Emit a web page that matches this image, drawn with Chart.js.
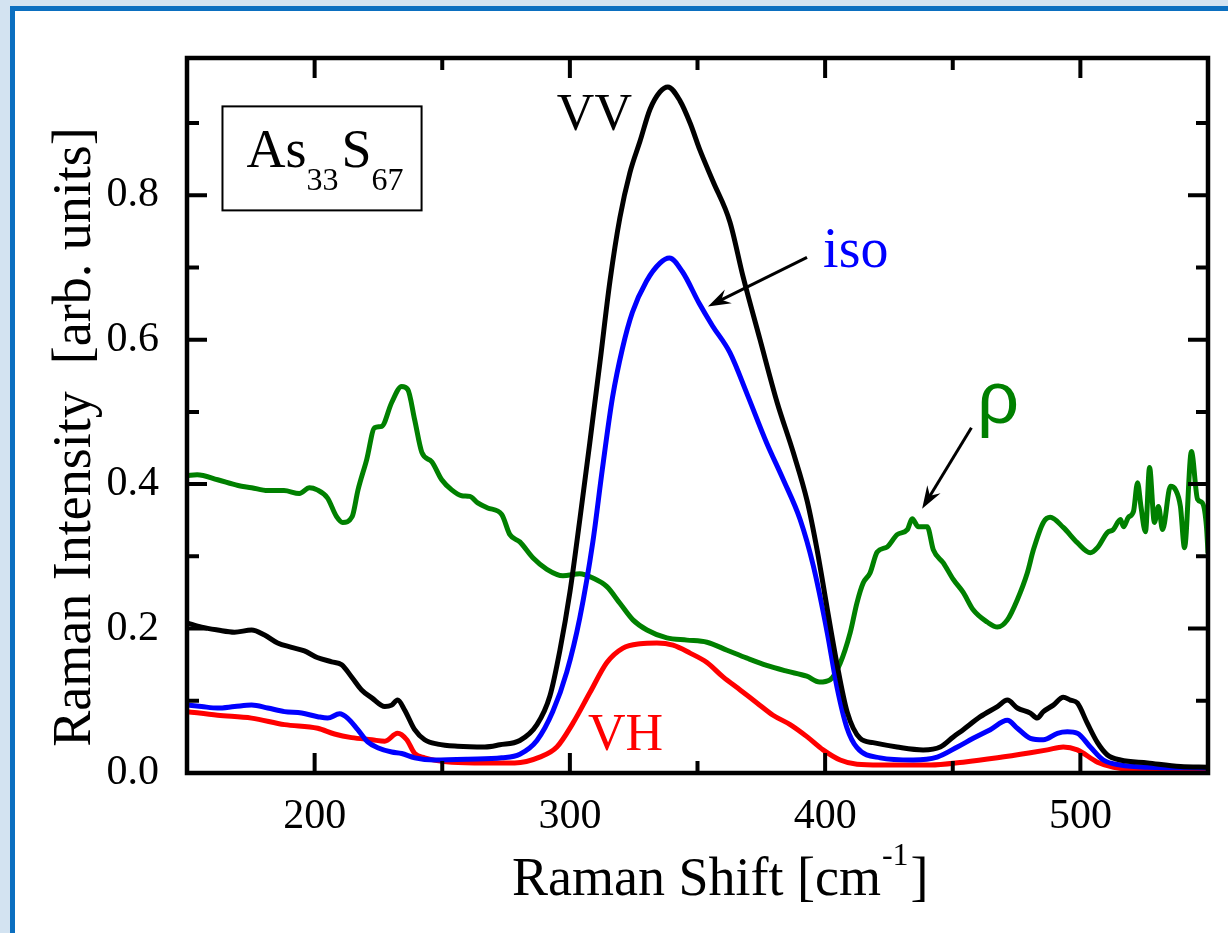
<!DOCTYPE html>
<html>
<head>
<meta charset="utf-8">
<script src="https://cdn.jsdelivr.net/npm/chart.js@4.4.1/dist/chart.umd.min.js"></script>
<style>
  html, body { margin: 0; padding: 0; }
  body { width: 1228px; height: 933px; background: #d3e3f1; position: relative; overflow: hidden; }
  #frame { position: absolute; left: 10px; top: 6px; right: 0; bottom: 0; background: #fff;
           border-left: 5px solid #0b6fc0; border-top: 5px solid #0b6fc0; }
  #chart { position: absolute; left: 0; top: 0; }
</style>
</head>
<body>
<div id="frame"></div>
<canvas id="chart" width="1228" height="933"></canvas>
<script>
// tick values
const xTicks = [200, 300, 400, 500];
const xMinor = [250, 350, 450];
const yTicks = [0, 0.2, 0.4, 0.6, 0.8];
const yMinor = [0.1, 0.3, 0.5, 0.7, 0.9];

// VV (black)
const vvShift = [150, 155.7, 162, 168.6, 175.3, 180.4, 185.5, 191, 196, 201, 206.7, 210.6, 214.5, 218.4, 222.4,
  227.5, 230.2, 232.5, 235.3, 239.2, 243.1, 248.2, 256, 266.7, 272.5, 280.4, 287.1, 292.2, 296.1, 300,
  303.9, 307.8, 311.8, 315.7, 319.6, 323.5, 327.5, 331.4, 335.3, 338.4, 343.1, 347.1, 351, 356.1, 362.7,
  367.8, 374.5, 381.2, 387.5, 393, 396.9, 400.8, 404.7, 408.6, 413.7, 418.8, 428.2, 438.4, 445.1, 450.2,
  454.1, 460.8, 467.5, 471.4, 475.3, 480.4, 483.1, 485.5, 489.4, 493.3, 496.1, 498.8, 502.7, 506.7, 510.6,
  515.7, 526.3, 539.2, 550];
const vvIntensity = [0.208, 0.202, 0.198, 0.195, 0.198, 0.191, 0.180, 0.174, 0.169, 0.160, 0.154, 0.150, 0.133, 0.115, 0.104,
  0.092, 0.094, 0.101, 0.087, 0.060, 0.046, 0.040, 0.037, 0.036, 0.039, 0.045, 0.067, 0.107, 0.170, 0.250,
  0.351, 0.457, 0.569, 0.681, 0.769, 0.831, 0.875, 0.919, 0.943, 0.950, 0.931, 0.900, 0.862, 0.819, 0.763,
  0.688, 0.600, 0.513, 0.444, 0.376, 0.308, 0.228, 0.150, 0.085, 0.048, 0.042, 0.036, 0.032, 0.036, 0.050,
  0.060, 0.078, 0.092, 0.101, 0.090, 0.083, 0.076, 0.085, 0.094, 0.105, 0.101, 0.097, 0.069, 0.042, 0.025,
  0.018, 0.014, 0.009, 0.008];

// iso (blue)
const isoShift = [150, 155.7, 162, 168.6, 175.3, 181.6, 188.2, 194.9, 201.2, 205.1, 209.8, 212.9, 216.9, 220.8, 224.7,
  230.2, 234.1, 239.2, 247.1, 260, 273.3, 280.4, 287.1, 293.3, 298.8, 303.9, 309, 312.7, 316.7, 320.6,
  324.5, 330, 335.3, 339, 344.1, 350.7, 355.9, 362.7, 369.4, 377.1, 383.5, 390.2, 395.3, 400.8, 404.7,
  408.6, 412.5, 421.6, 434.5, 443.9, 451.8, 458, 464.7, 471.4, 475.3, 480.4, 485.5, 491, 494.9, 498.8,
  503.9, 509, 515.7, 526.3, 550];
const isoIntensity = [0.094, 0.092, 0.090, 0.092, 0.094, 0.090, 0.085, 0.083, 0.078, 0.076, 0.082, 0.076, 0.060, 0.043, 0.035,
  0.029, 0.027, 0.021, 0.018, 0.019, 0.021, 0.026, 0.045, 0.085, 0.140, 0.215, 0.320, 0.420, 0.520, 0.588,
  0.638, 0.681, 0.706, 0.713, 0.694, 0.650, 0.619, 0.582, 0.525, 0.457, 0.407, 0.351, 0.288, 0.195, 0.118,
  0.062, 0.035, 0.021, 0.018, 0.022, 0.036, 0.048, 0.060, 0.073, 0.062, 0.048, 0.046, 0.055, 0.057, 0.055,
  0.036, 0.018, 0.011, 0.008, 0.007];

// VH (red)
const vhShift = [150, 162, 175.3, 188.2, 201.2, 207.8, 214.5, 222.4, 227.5, 232.5, 236.1, 239.2, 243.1, 253.7, 266.7,
  278.4, 288.2, 294.9, 301.2, 307.8, 314.5, 320.8, 327.5, 334.1, 340.4, 347.1, 353.7, 360, 366.7, 373.3,
  379.6, 386.3, 393, 399.2, 405.9, 412.5, 421.6, 441.2, 454.1, 467.5, 480.4, 487.1, 493.3, 498.8, 506.7,
  513, 526.3, 550];
const vhIntensity = [0.085, 0.080, 0.076, 0.067, 0.062, 0.054, 0.049, 0.046, 0.044, 0.055, 0.046, 0.027, 0.021, 0.015, 0.014,
  0.014, 0.022, 0.036, 0.069, 0.111, 0.153, 0.173, 0.179, 0.180, 0.177, 0.166, 0.153, 0.133, 0.115, 0.097,
  0.080, 0.067, 0.050, 0.032, 0.018, 0.012, 0.011, 0.011, 0.015, 0.021, 0.028, 0.032, 0.036, 0.032, 0.015,
  0.008, 0.004, 0.004];

// rho (green)
const rhoShift = [150, 154, 162, 170, 175.3, 181.6, 188, 194, 198, 201, 205, 208.6, 211, 214.7, 217,
  220.4, 223.5, 226.3, 230.2, 234.1, 236.5, 239.2, 242, 245.9, 249.8, 253.7, 257.6, 260.8, 263.9, 267.8,
  273.3, 276.5, 280.4, 285.5, 291, 297.3, 303.9, 309, 314.5, 319.6, 324.7, 330.2, 338, 345.9, 353.7,
  361.6, 369.4, 377.1, 385, 392.8, 397.8, 401.9, 405.9, 409.8, 412.5, 414.9, 417.6, 420.4, 424.3, 428.2,
  432.2, 434.1, 436.5, 440, 442.4, 446.3, 450.2, 454.1, 458, 463.5, 467.5, 471.4, 475.3, 479.2, 481.6,
  485.5, 488.2, 493.3, 498.8, 503.9, 506.7, 510.6, 512.9, 515.7, 516.9, 518.8, 520.8, 522.4, 523.7, 525.5,
  527.1, 529, 530.6, 532.2, 535.3, 537.3, 539.2, 540.8, 543.5, 545.9, 547.8, 549.4, 550];
const rhoIntensity = [0.412, 0.413, 0.406, 0.398, 0.395, 0.391, 0.391, 0.387, 0.395, 0.392, 0.381, 0.355, 0.347, 0.355, 0.392,
  0.434, 0.478, 0.480, 0.513, 0.535, 0.531, 0.489, 0.444, 0.431, 0.406, 0.392, 0.384, 0.383, 0.374, 0.367,
  0.358, 0.330, 0.320, 0.298, 0.282, 0.273, 0.276, 0.270, 0.258, 0.235, 0.212, 0.198, 0.187, 0.184, 0.181,
  0.170, 0.159, 0.149, 0.141, 0.134, 0.126, 0.129, 0.152, 0.194, 0.236, 0.263, 0.277, 0.306, 0.313, 0.330,
  0.337, 0.352, 0.341, 0.341, 0.309, 0.291, 0.268, 0.250, 0.226, 0.209, 0.202, 0.212, 0.240, 0.277, 0.309,
  0.347, 0.354, 0.340, 0.319, 0.305, 0.312, 0.333, 0.337, 0.351, 0.341, 0.354, 0.362, 0.402, 0.370, 0.334,
  0.423, 0.347, 0.369, 0.337, 0.397, 0.392, 0.369, 0.312, 0.445, 0.379, 0.374, 0.341, 0.305];

const serif = '"Liberation Serif", "Times New Roman", serif';
Chart.defaults.font.family = serif;
Chart.defaults.color = "#000";

function points(xs, ys) {
  return xs.map((x, i) => ({ x: x, y: ys[i] }));
}

function line(label, xs, ys, color) {
  return {
    label: label,
    data: points(xs, ys),
    borderColor: color,
    borderWidth: 5,
    pointRadius: 0,
    fill: false,
    cubicInterpolationMode: "monotone",
    borderJoinStyle: "round",
    borderCapStyle: "round"
  };
}

function arrow(ctx, x1, y1, x2, y2) {
  const a = Math.atan2(y2 - y1, x2 - x1);
  ctx.lineWidth = 3;
  ctx.beginPath();
  ctx.moveTo(x1, y1);
  ctx.lineTo(x2 - 12 * Math.cos(a), y2 - 12 * Math.sin(a));
  ctx.stroke();
  ctx.beginPath();
  ctx.moveTo(x2, y2);
  ctx.lineTo(x2 - 24 * Math.cos(a - 0.33), y2 - 24 * Math.sin(a - 0.33));
  ctx.lineTo(x2 - 15 * Math.cos(a), y2 - 15 * Math.sin(a));
  ctx.lineTo(x2 - 24 * Math.cos(a + 0.33), y2 - 24 * Math.sin(a + 0.33));
  ctx.closePath();
  ctx.fill();
}

// box, inward ticks, labels, arrows, axis titles
const framePlugin = {
  id: "frame",
  afterDraw(chart) {
    const { ctx, chartArea: a, scales } = chart;
    const px = v => scales.x.getPixelForValue(v);
    const py = v => scales.y.getPixelForValue(v);

    ctx.save();
    ctx.strokeStyle = "#000";
    ctx.fillStyle = "#000";
    ctx.lineWidth = 4.5;
    ctx.strokeRect(a.left, a.top, a.right - a.left, a.bottom - a.top);

    ctx.lineWidth = 4;
    const xt = (v, len) => {
      const p = px(v);
      ctx.beginPath();
      ctx.moveTo(p, a.bottom); ctx.lineTo(p, a.bottom - len);
      ctx.moveTo(p, a.top); ctx.lineTo(p, a.top + len);
      ctx.stroke();
    };
    const yt = (v, len) => {
      const p = py(v);
      ctx.beginPath();
      ctx.moveTo(a.left, p); ctx.lineTo(a.left + len, p);
      ctx.moveTo(a.right, p); ctx.lineTo(a.right - len, p);
      ctx.stroke();
    };
    xTicks.forEach(v => xt(v, 20));
    xMinor.forEach(v => xt(v, 12));
    yTicks.forEach(v => yt(v, 20));
    yMinor.forEach(v => yt(v, 12));

    ctx.textAlign = "left";
    ctx.textBaseline = "alphabetic";

    // sample box
    ctx.lineWidth = 2;
    ctx.strokeRect(px(163.9), py(0.923), px(241.9) - px(163.9), py(0.779) - py(0.923));
    let tx = px(173.3);
    const big = "54px " + serif, small = "32px " + serif;
    [["As", big, 0.839], ["33", small, 0.807], ["S", big, 0.839], ["67", small, 0.807]].forEach(([t, f, yv]) => {
      ctx.font = f;
      ctx.fillText(t, tx, py(yv));
      tx += ctx.measureText(t).width + (f === small ? 3 : 0);
    });

    // curve labels
    ctx.font = "52px " + serif;
    ctx.fillStyle = "#000";
    ctx.fillText("VV", px(294.9), py(0.891));
    ctx.fillStyle = "#ff0000";
    ctx.fillText("VH", px(307.1), py(0.032));
    ctx.font = "56px " + serif;
    ctx.fillStyle = "#0000ff";
    ctx.fillText("iso", px(399.2), py(0.700));
    ctx.font = '74px "Liberation Sans", Arial, sans-serif';
    ctx.fillStyle = "#008000";
    ctx.fillText("\u03c1", px(459.5), py(0.484));

    ctx.fillStyle = "#000";
    arrow(ctx, px(392.9), py(0.714), px(354.1), py(0.646));
    arrow(ctx, px(457.3), py(0.478), px(438), py(0.366));

    // axis titles
    ctx.font = "54px " + serif;
    const xl = 512, xb = 895;
    const main = "Raman Shift [cm";
    ctx.fillText(main, xl, xb);
    let w = xl + ctx.measureText(main).width + 1;
    ctx.font = "32px " + serif;
    ctx.fillText("-1", w, xb - 30);
    w += ctx.measureText("-1").width + 2;
    ctx.font = "54px " + serif;
    ctx.fillText("]", w, xb);

    ctx.translate(90, 437);
    ctx.rotate(-Math.PI / 2);
    ctx.textAlign = "center";
    ctx.fillText("Raman Intensity  [arb. units]", 0, 0);
    ctx.restore();
  }
};

new Chart(document.getElementById("chart"), {
  type: "line",
  data: {
    datasets: [
      line("VV", vvShift, vvIntensity, "#000000"),
      line("iso", isoShift, isoIntensity, "#0000ff"),
      line("VH", vhShift, vhIntensity, "#ff0000"),
      line("rho", rhoShift, rhoIntensity, "#008000")
    ]
  },
  options: {
    responsive: false,
    animation: false,
    events: [],
    layout: { padding: { left: 0, top: 58, right: 20, bottom: 0 } },
    plugins: { legend: { display: false }, tooltip: { enabled: false } },
    scales: {
      x: {
        type: "linear",
        min: 150,
        max: 550,
        afterBuildTicks: s => { s.ticks = xTicks.map(v => ({ value: v })); },
        afterFit: s => { s.height = 160; },
        grid: { display: false },
        border: { display: false },
        ticks: { font: { size: 42 }, color: "#000", padding: 11, maxRotation: 0 }
      },
      y: {
        min: 0,
        max: 0.99,
        afterBuildTicks: s => { s.ticks = yTicks.map(v => ({ value: v })); },
        afterFit: s => { s.width = 187; },
        grid: { display: false },
        border: { display: false },
        ticks: { font: { size: 42 }, color: "#000", padding: 20, callback: v => v.toFixed(1) }
      }
    }
  },
  plugins: [framePlugin]
});
</script>
</body>
</html>
